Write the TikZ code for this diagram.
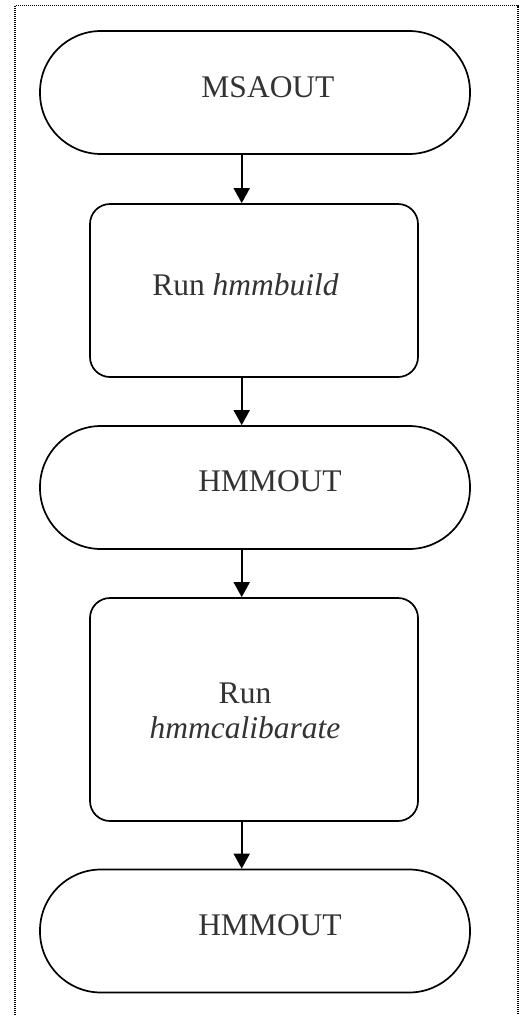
\documentclass[tikz,border=0pt]{standalone}
\usepackage{fontspec}
\setmainfont{Liberation Serif}
\usetikzlibrary{arrows.meta}

\begin{document}
\begin{tikzpicture}[x=1pt,y=-1pt,
  outline/.style={draw=black,line width=1.7pt,fill=white,inner sep=0pt},
  terminal/.style={outline,rectangle,rounded corners=61pt,minimum width=430pt,minimum height=123pt},
  process/.style={outline,rectangle,rounded corners=20pt,minimum width=328pt},
  caption/.style={text=black!80,font=\fontsize{31.5pt}{35pt}\selectfont,inner sep=0pt,anchor=base,align=center},
  flow/.style={line width=1.7pt,-{Triangle[width=16pt,length=15pt]}},
  frame/.style={line width=1.2pt,dash pattern=on 1pt off 1pt}]

  \useasboundingbox (0,0) rectangle (519,1015);

  % open frame: top, left and right sides
  \draw[frame] (15,1015) -- (15,5.5) -- (518,5.5) -- (518,1015);

  % flow chart shapes
  \node[terminal] (msa) at (255,92.5) {};
  \node[process,minimum height=173pt] (build) at (254,290.5) {};
  \node[terminal] (hmm1) at (255,487.5) {};
  \node[process,minimum height=223pt] (calib) at (254,709.5) {};
  \node[terminal] (hmm2) at (255,931) {};

  % texts
  \node[caption] (msa-t) at (268,97) {MSAOUT};
  \node[caption] (build-t) at (245.5,295) {Run \textit{hmmbuild}};
  \node[caption] (hmm1-t) at (270,491) {HMMOUT};
  \node[caption] (calib-t1) at (245,703) {Run};
  \node[caption] (calib-t2) at (245,738) {\textit{hmmcalibarate}};
  \node[caption] (hmm2-t) at (270,935) {HMMOUT};

  % connectors
  \coordinate (ax) at (241.7,0);
  \draw[flow] (msa.south -| ax) -- (build.north -| ax);
  \draw[flow] (build.south -| ax) -- (hmm1.north -| ax);
  \draw[flow] (hmm1.south -| ax) -- (calib.north -| ax);
  \draw[flow] (calib.south -| ax) -- (hmm2.north -| ax);
\end{tikzpicture}
\end{document}
